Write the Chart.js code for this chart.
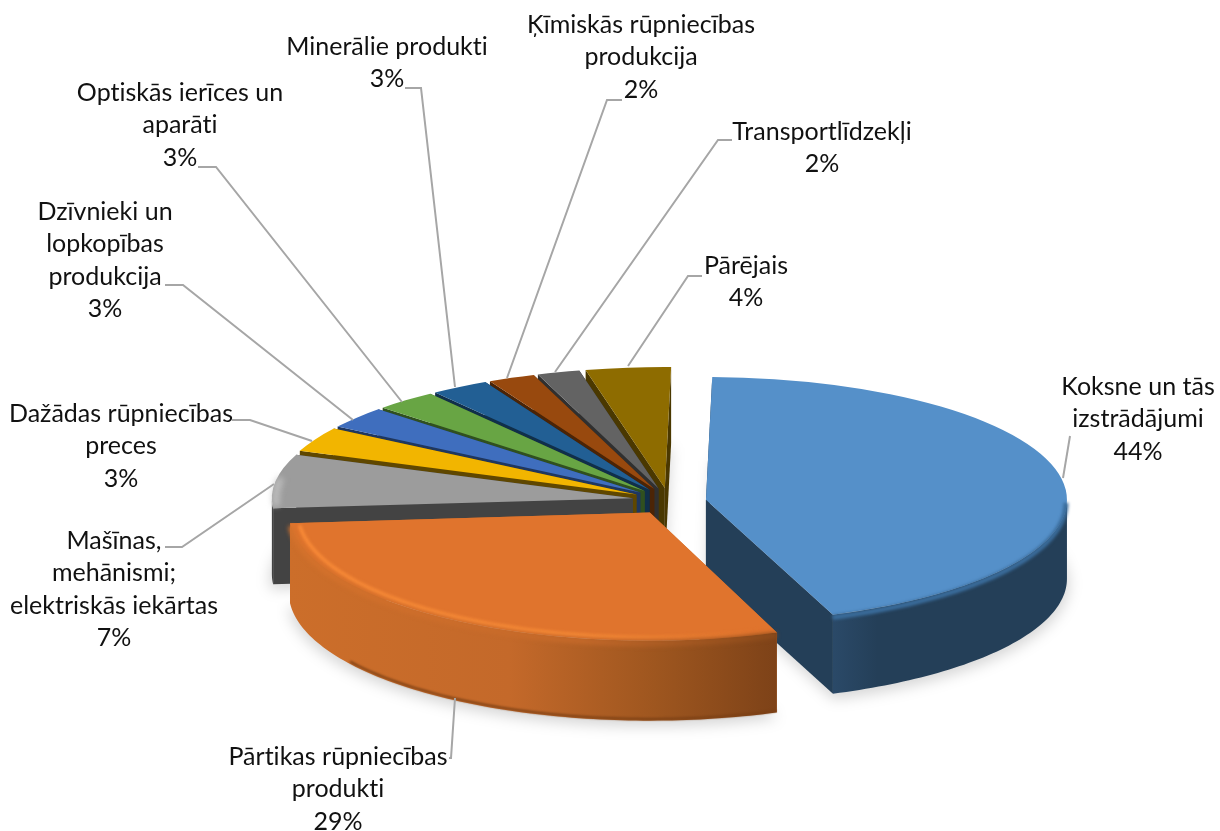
<!DOCTYPE html>
<html>
<head>
<meta charset="utf-8">
<style>
    html, body { margin: 0; padding: 0; background: #fff; }
    canvas { display: block; }
</style>
<script src="https://cdn.jsdelivr.net/npm/chart.js@4"></script>
</head>
<body>
<canvas id="pieChart" width="1220" height="831"></canvas>
<script>
// ===================== DATA ===================== //
const categories = [
    "Koksne un tās izstrādājumi",
    "Pārtikas rūpniecības produkti",
    "Mašīnas, mehānismi; elektriskās iekārtas",
    "Dažādas rūpniecības preces",
    "Dzīvnieki un lopkopības produkcija",
    "Optiskās ierīces un aparāti",
    "Minerālie produkti",
    "Ķīmiskās rūpniecības produkcija",
    "Transportlīdzekļi",
    "Pārējais"
];
const shares = [44.0, 29.4, 7.2, 3.3, 2.9, 2.8, 2.6, 2.1, 1.9, 3.8];

// ===================== STYLES ===================== //
const topColors = ["#5590C9", "#E0742D", "#9C9C9C", "#F2B500", "#3F6EBE", "#68A544", "#225F94", "#98490E", "#636363", "#8E6C00"];
const wallColors = ["#243F58", "#C56A28", "#434343", "#5F4700", "#1F375F", "#30501F", "#102F4A", "#4B2406", "#303030", "#4A3800"];

// ===================== LAYOUT ===================== //
const squash = [0.34, 0.355, 0.335, 0.335, 0.335, 0.335, 0.335, 0.335, 0.335, 0.335];
const explode = [38, 35, 36, 36, 36, 36, 36, 36, 36, 36];
const lift = [2, 2, 0, 0, 0, 0, 0, 0, 0, 0];
const depth = [79, 80, 76, 76, 76, 76, 76, 76, 76, 76];
const drawOrder = [9, 8, 7, 6, 5, 4, 3, 2, 0, 1];

const labelLines = [
    ["Koksne un tās", "izstrādājumi"],
    ["Pārtikas rūpniecības", "produkti"],
    ["Mašīnas,", "mehānismi;", "elektriskās iekārtas"],
    ["Dažādas rūpniecības", "preces"],
    ["Dzīvnieki un", "lopkopības", "produkcija"],
    ["Optiskās ierīces un", "aparāti"],
    ["Minerālie produkti"],
    ["Ķīmiskās rūpniecības", "produkcija"],
    ["Transportlīdzekļi"],
    ["Pārējais"]
];
const labelCenterX = [1138, 338, 114, 121, 105, 180, 387, 641, 822, 746];
const labelFirstY = [387, 757, 541, 414, 212, 93, 47, 25, 132, 266];
const labelStep = 32.3;

const leaders = [
    [[1063, 478], [1070, 436]],
    [[455, 698], [451, 758], [449, 758]],
    [[274, 484], [182, 547], [165, 547]],
    [[312, 441], [250, 420], [232, 420]],
    [[353, 420], [183, 285], [165, 285]],
    [[402, 402], [216, 167], [198, 167]],
    [[455, 387], [421, 88], [405, 88]],
    [[507, 378], [607, 100], [622, 100]],
    [[555, 372], [718, 140], [732, 140]],
    [[628, 366], [688, 276], [702, 276]]
];

// ===================== 3D HELPERS ===================== //
function sliceGeometry(chart, i) {
    const arc = chart.getDatasetMeta(0).data[i];
    const p = arc.getProps(["x", "y", "startAngle", "endAngle", "outerRadius"]);
    const mid = (p.startAngle + p.endAngle) / 2;
    const k = squash[i];
    const ox = p.x + explode[i] * Math.cos(mid);
    const oy = p.y + explode[i] * Math.sin(mid) * k + lift[i];
    return {
        arc, k, ox, oy, h: depth[i],
        start: p.startAngle, end: p.endAngle, r: p.outerRadius,
        at: (a, r, z) => [ox + r * Math.cos(a), oy + k * r * Math.sin(a) + z]
    };
}

function rimPoints(g, from, to, r, z) {
    const pts = [];
    const steps = Math.max(2, Math.ceil((to - from) / 0.02));
    for (let s = 0; s <= steps; s++) {
        pts.push(g.at(from + (to - from) * s / steps, r, z));
    }
    return pts;
}

function fillPoints(ctx, pts, style) {
    ctx.beginPath();
    pts.forEach((q, n) => n === 0 ? ctx.moveTo(q[0], q[1]) : ctx.lineTo(q[0], q[1]));
    ctx.closePath();
    ctx.fillStyle = style;
    ctx.fill();
}

function strokeRim(ctx, g, from, to, r, z, color, width, blur) {
    const pts = rimPoints(g, from, to, r, z);
    ctx.save();
    ctx.filter = `blur(${blur}px)`;
    ctx.beginPath();
    pts.forEach((q, n) => n === 0 ? ctx.moveTo(q[0], q[1]) : ctx.lineTo(q[0], q[1]));
    ctx.strokeStyle = color;
    ctx.lineWidth = width;
    ctx.stroke();
    ctx.restore();
}

function wallStyle(ctx, i) {
    if (i === 1) {
        const grad = ctx.createLinearGradient(289, 0, 778, 0);
        grad.addColorStop(0, "#CC6E2A");
        grad.addColorStop(0.45, "#C4692A");
        grad.addColorStop(0.75, "#9E561F");
        grad.addColorStop(1, "#7D4218");
        return grad;
    }
    if (i === 0) {
        const grad = ctx.createLinearGradient(830, 0, 1068, 0);
        grad.addColorStop(0, "#2B4A69");
        grad.addColorStop(0.2, "#243F58");
        grad.addColorStop(1, "#243F58");
        return grad;
    }
    return wallColors[i];
}

// ===================== 3D PIE PLUGIN ===================== //
const pie3d = {
    id: "pie3d",
    beforeDatasetsDraw(chart) {
        const ctx = chart.ctx;

        // soft shadow under the whole pie
        ctx.save();
        ctx.filter = "blur(7px)";
        drawOrder.forEach(i => {
            const g = sliceGeometry(chart, i);
            const pts = [g.at(0, 0, g.h + 5)].concat(rimPoints(g, g.start, g.end, g.r + 2, g.h + 5));
            fillPoints(ctx, pts, "rgba(0,0,0,0.16)");
        });
        ctx.restore();

        drawOrder.forEach(i => {
            const g = sliceGeometry(chart, i);

            // the two cut faces
            [g.start, g.end].forEach(a => {
                fillPoints(ctx, [g.at(a, 0, 0), g.at(a, g.r, 0), g.at(a, g.r, g.h), g.at(a, 0, g.h)], wallColors[i]);
            });

            // outer wall, only the part turned to the viewer
            const from = Math.max(g.start, 0);
            const to = Math.min(g.end, Math.PI);
            if (to > from) {
                const upper = rimPoints(g, from, to, g.r, 0);
                const lower = rimPoints(g, from, to, g.r, g.h).reverse();
                fillPoints(ctx, upper.concat(lower), wallStyle(ctx, i));
            }

            // top surface comes from the library's own arc element
            ctx.save();
            ctx.translate(g.ox, g.oy);
            ctx.scale(1, g.k);
            ctx.translate(-g.arc.x, -g.arc.y);
            g.arc.draw(ctx);
            ctx.restore();

            // bevel along the rim
            if (i === 0) {
                strokeRim(ctx, g, from, to, g.r - 1, 3, "#3A6C9B", 5, 1.8);
            } else if (i === 1) {
                const glow = ctx.createLinearGradient(289, 0, 778, 0);
                glow.addColorStop(0, "#F98B38");
                glow.addColorStop(0.6, "#F58A36");
                glow.addColorStop(0.95, "#E0742D");
                strokeRim(ctx, g, from + 0.02, to - 0.02, g.r - 9, 0, glow, 3.5, 1.8);
                const lip = ctx.createLinearGradient(289, 0, 778, 0);
                lip.addColorStop(0, "#D5722C");
                lip.addColorStop(0.6, "#C4692A");
                lip.addColorStop(1, "#8A4A1B");
                strokeRim(ctx, g, from, to, g.r - 1, 3, lip, 6, 2);
                strokeRim(ctx, g, from, to - 0.5, g.r - 2, g.h - 1, "#7A3F14", 2, 1);
            } else if (i === 2) {
                strokeRim(ctx, g, g.start + 0.02, g.end - 0.2, g.r - 4, 0, "#C4C4C4", 6, 3);
            }
        });

        // skip the flat drawing, the arcs are already painted
        return false;
    },
    afterDraw(chart) {
        const ctx = chart.ctx;
        const total = shares.reduce((sum, v) => sum + v, 0);

        ctx.save();
        ctx.strokeStyle = "#A6A6A6";
        ctx.lineWidth = 2;
        leaders.forEach(line => {
            ctx.beginPath();
            line.forEach((q, n) => n === 0 ? ctx.moveTo(q[0], q[1]) : ctx.lineTo(q[0], q[1]));
            ctx.stroke();
        });

        ctx.fillStyle = "#111";
        ctx.font = "25px Lato, 'Open Sans', sans-serif";
        // tiny spacing switches off the "ti" ligature
        ctx.letterSpacing = "0.01px";
        ctx.textAlign = "center";
        ctx.textBaseline = "middle";
        shares.forEach((v, i) => {
            const lines = labelLines[i].concat(Math.round(v / total * 100) + "%");
            lines.forEach((text, n) => {
                ctx.fillText(text, labelCenterX[i], labelFirstY[i] + n * labelStep);
            });
        });
        ctx.restore();
    }
};

// ===================== CHART ===================== //
new Chart(document.getElementById("pieChart").getContext("2d"), {
    type: "pie",
    data: {
        labels: categories,
        datasets: [{
            data: shares,
            backgroundColor: topColors,
            borderWidth: 0,
            radius: 361
        }]
    },
    options: {
        responsive: false,
        animation: false,
        rotation: 1,
        layout: { padding: { left: 117, top: 169 } },
        plugins: {
            legend: { display: false },
            tooltip: { enabled: false }
        }
    },
    plugins: [pie3d]
});
</script>
</body>
</html>
